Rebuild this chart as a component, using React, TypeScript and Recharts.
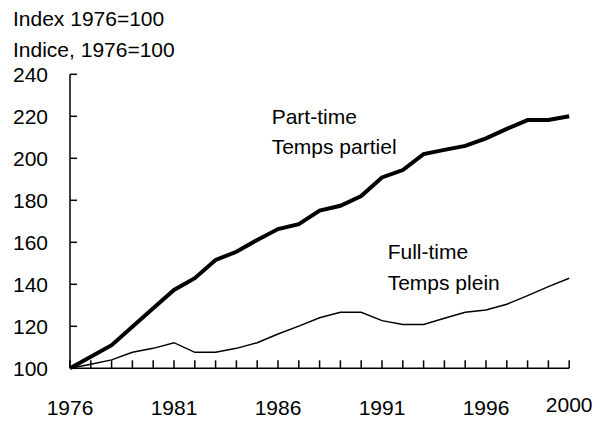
import { Line, LineChart, XAxis, YAxis } from "recharts";

const years = [
  1976, 1977, 1978, 1979, 1980, 1981, 1982, 1983, 1984, 1985, 1986, 1987, 1988,
  1989, 1990, 1991, 1992, 1993, 1994, 1995, 1996, 1997, 1998, 1999, 2000,
];
const partTime = [
  100, 105.5, 111, 119.8, 128.6, 137.3, 142.9, 151.6, 155.5, 161.1, 166.3, 168.6, 175.1,
  177.4, 182, 190.9, 194.4, 202, 204, 205.9, 209.5, 214, 218.2, 218.2, 220,
];
const fullTime = [
  100, 101.9, 104, 107.6, 109.5, 112.2, 107.6, 107.6, 109.5, 112.2, 116.3, 120.1, 124.1,
  126.7, 126.7, 122.7, 120.9, 120.9, 123.8, 126.7, 127.8, 130.5, 134.6, 138.9, 142.9,
];
const yTicks = [100, 120, 140, 160, 180, 200, 220, 240];
const labelYears = [1976, 1981, 1986, 1991, 1996, 2000];

const data = years.map((year, i) => ({ year, partTime: partTime[i], fullTime: fullTime[i] }));

const font = "'Liberation Sans', Arial, sans-serif";
const fs = 21;

function YearTick({ x, y, payload }: any) {
  const yr = payload.value;
  return (
    <g>
      <line x1={x} x2={x} y1={y} y2={y - 8} stroke="#000" strokeWidth={1.5} />
      {labelYears.includes(yr) && (
        <text x={x} y={y + 47 - (yr === 2000 ? 3 : 0)} textAnchor="middle" fontSize={fs} fontFamily={font} fill="#000">
          {yr}
        </text>
      )}
    </g>
  );
}

function ValueTick({ x, y, payload }: any) {
  return (
    <g>
      <line x1={x} x2={x + 7} y1={y} y2={y} stroke="#000" strokeWidth={1.5} />
      <text x={x - 22} y={y + 7.5} textAnchor="end" fontSize={fs} fontFamily={font} fill="#000">
        {payload.value}
      </text>
    </g>
  );
}

export default function App() {
  return (
    <div style={{ position: "relative", width: 601, height: 421, background: "#fff" }}>
      <style>{"body{margin:0}"}</style>
      <LineChart width={601} height={421} data={data} margin={{ top: 74.3, right: 31.8, bottom: 0, left: 0 }}>
        <XAxis
          dataKey="year"
          type="number"
          domain={[1976, 2000]}
          ticks={years}
          interval={0}
          tickSize={0}
          tickMargin={0}
          height={52.7}
          axisLine={{ stroke: "#000", strokeWidth: 1.5 }}
          tickLine={false}
          tick={<YearTick />}
        />
        <YAxis
          type="number"
          domain={[100, 240]}
          ticks={yTicks}
          interval={0}
          tickSize={0}
          tickMargin={0}
          width={70}
          axisLine={{ stroke: "#000", strokeWidth: 1.5 }}
          tickLine={false}
          tick={<ValueTick />}
        />
        <Line dataKey="fullTime" stroke="#000" strokeWidth={1.5} dot={false} isAnimationActive={false} />
        <Line dataKey="partTime" stroke="#000" strokeWidth={4} dot={false} isAnimationActive={false} />
      </LineChart>
      <svg width={601} height={421} style={{ position: "absolute", left: 0, top: 0, pointerEvents: "none" }}>
        <g fontSize={fs} fontFamily={font} fill="#000">
          <text x={13} y={26}>Index 1976=100</text>
          <text x={13} y={56.7}>Indice, 1976=100</text>
          <text x={271.7} y={124.3}>Part-time</text>
          <text x={271.7} y={154.3}>Temps partiel</text>
          <text x={387.7} y={259}>Full-time</text>
          <text x={387.7} y={290}>Temps plein</text>
        </g>
      </svg>
    </div>
  );
}
